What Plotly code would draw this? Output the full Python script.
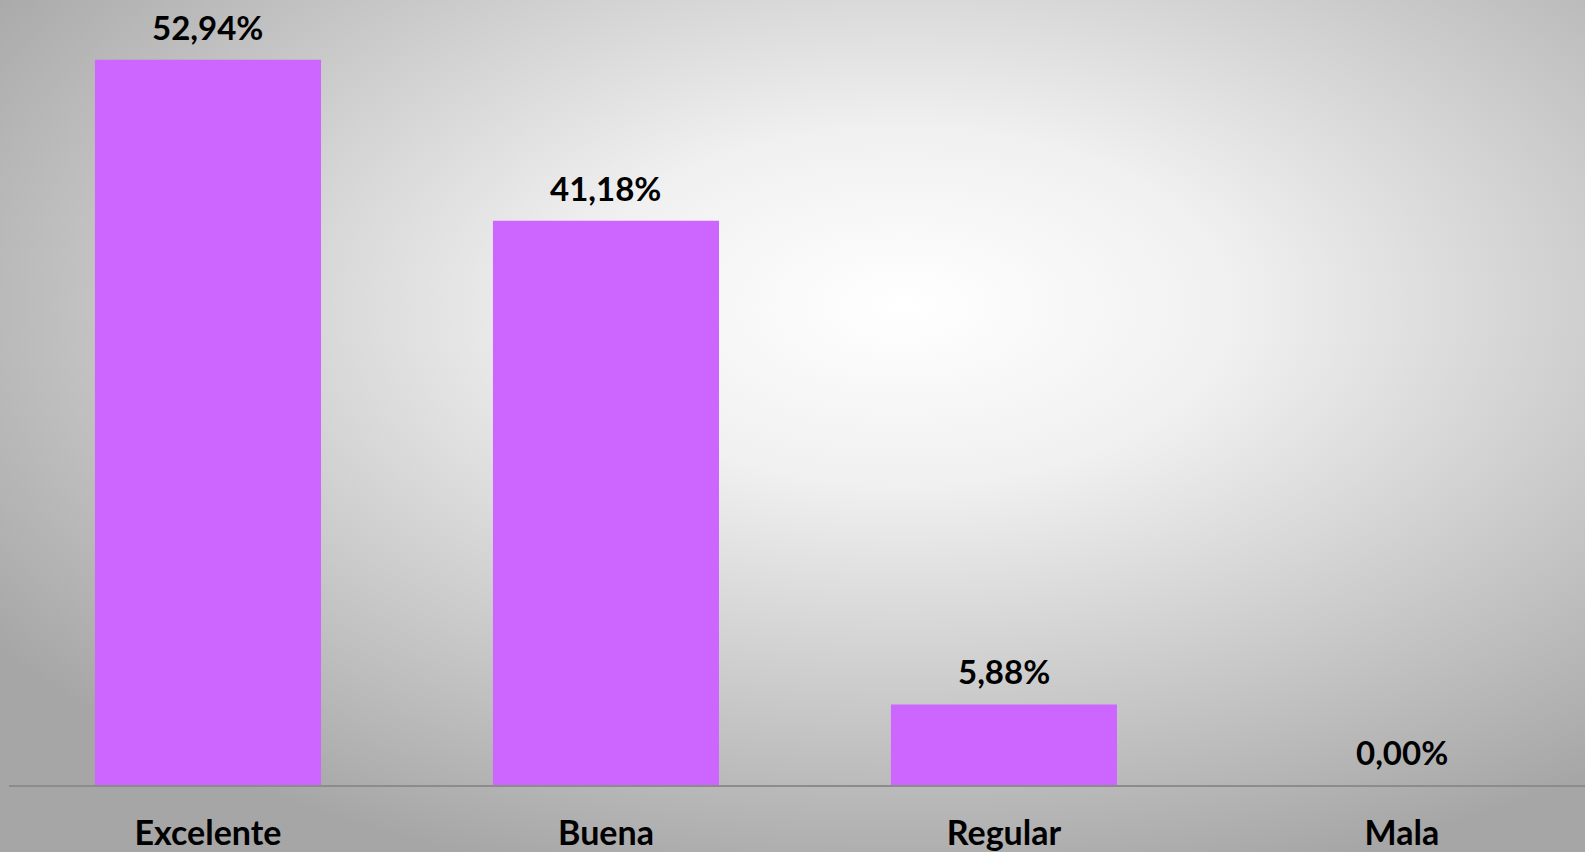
import plotly.graph_objects as go

# calificaciones de la encuesta
categorias = ["Excelente", "Buena", "Regular", "Mala"]
porcentajes = [52.94, 41.18, 5.88, 0.00]

etiquetas = [f"{v:.2f}".replace(".", ",") + "%" for v in porcentajes]

fuente = "Lato"

# fondo con degradado radial (blanco al centro, gris en los bordes)
svg_fondo = (
    "data:image/svg+xml;utf8,"
    "<svg xmlns='http://www.w3.org/2000/svg' width='1585' height='852' preserveAspectRatio='none'>"
    "<defs><radialGradient id='g' cx='0.57' cy='0.36' r='0.7'>"
    "<stop offset='0' stop-color='%23ffffff'/>"
    "<stop offset='0.3' stop-color='%23f0f0f0'/>"
    "<stop offset='1' stop-color='%23a6a6a6'/>"
    "</radialGradient></defs>"
    "<rect width='1585' height='852' fill='url(%23g)'/></svg>"
)

fig = go.Figure()
fig.add_trace(go.Bar(
    x=categorias,
    y=porcentajes,
    marker=dict(color="#CC66FF", line=dict(width=0)),
    width=0.568,
    hoverinfo="skip",
))

# etiquetas de datos encima de cada barra
for cat, val, txt in zip(categorias, porcentajes, etiquetas):
    fig.add_annotation(
        x=cat, y=val, text=f"<b>{txt}</b>",
        showarrow=False, yanchor="bottom", yshift=11,
        font=dict(family=fuente, size=33, color="black"),
    )

fig.update_layout(
    width=1585, height=852,
    margin=dict(l=9, r=0, t=0, b=67, pad=0),
    paper_bgcolor="#b0b0b0",
    plot_bgcolor="rgba(0,0,0,0)",
    showlegend=False,
    images=[dict(
        source=svg_fondo, xref="paper", yref="paper",
        x=-9 / 1576, y=1, sizex=1585 / 1576, sizey=852 / 785,
        xanchor="left", yanchor="top", sizing="stretch", layer="below",
    )],
)
fig.update_xaxes(
    range=[-0.5, 3.46],
    showline=True, linecolor="#8c8c8c", linewidth=1.5,
    showgrid=False, ticks="", automargin=False,
    ticklabelstandoff=17,
    tickfont=dict(family=fuente, size=34, color="black", weight="bold"),
)
fig.update_yaxes(
    range=[0, 57.3], visible=False, showgrid=False, zeroline=False,
)

fig.write_html(
    "out.html",
    config={"displayModeBar": False},
    post_script="document.body.style.margin='0';document.body.style.overflow='hidden';",
)
